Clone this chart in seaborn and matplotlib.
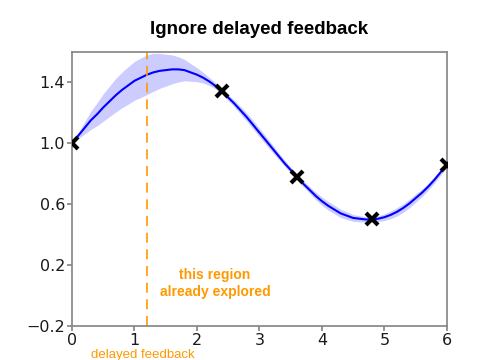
import numpy as np
import pandas as pd
import seaborn as sns
import matplotlib
matplotlib.use('Agg')
import matplotlib.pyplot as plt

# posterior mean and band half-width, x step 0.1
grid_x = [round(0.1 * i, 1) for i in range(61)]
mean_y = [1.00, 1.05, 1.10, 1.15, 1.19, 1.235, 1.275, 1.315, 1.35, 1.38,
          1.41, 1.43, 1.45, 1.465, 1.475, 1.48, 1.485, 1.485, 1.48, 1.465,
          1.45, 1.43, 1.405, 1.375, 1.34, 1.30, 1.26, 1.215, 1.17, 1.12,
          1.07, 1.02, 0.97, 0.92, 0.87, 0.825, 0.78, 0.735, 0.695, 0.655,
          0.62, 0.59, 0.565, 0.54, 0.525, 0.51, 0.505, 0.50, 0.50, 0.505,
          0.515, 0.53, 0.55, 0.575, 0.605, 0.64, 0.675, 0.715, 0.76, 0.81,
          0.86]
half_band = [0.0, 0.02, 0.04, 0.06, 0.075, 0.09, 0.10, 0.11, 0.117, 0.123,
             0.127, 0.13, 0.13, 0.125, 0.115, 0.105, 0.095, 0.083, 0.07, 0.058,
             0.046, 0.035, 0.026, 0.02, 0.018, 0.019, 0.022, 0.025, 0.027, 0.028,
             0.028, 0.027, 0.025, 0.022, 0.02, 0.018, 0.018, 0.019, 0.022, 0.025,
             0.027, 0.028, 0.028, 0.027, 0.025, 0.022, 0.02, 0.018, 0.018, 0.019,
             0.022, 0.025, 0.027, 0.028, 0.028, 0.027, 0.025, 0.023, 0.021, 0.019,
             0.018]

obs_x = [0.0, 2.4, 3.6, 4.8, 6.0]
obs_y = [1.00, 1.34, 0.78, 0.50, 0.86]

delayed_x = 1.2
yticks = [-0.2, 0.2, 0.6, 1.0, 1.4]

sns.set_theme(style='ticks')
plt.rcParams['font.family'] = ['DejaVu Sans']

df = pd.DataFrame({'x': grid_x, 'mean': mean_y, 'sd': half_band})
obs = pd.DataFrame({'x': obs_x, 'y': obs_y})

fig = plt.figure(figsize=(4.8, 3.6), dpi=100)
ax = fig.add_axes([0.15, 0.094, 0.781, 0.762])

ax.fill_between(df['x'], df['mean'] - df['sd'], df['mean'] + df['sd'],
                color='#0000ff', alpha=0.2, lw=0)
sns.lineplot(data=df, x='x', y='mean', color='#0000ff', lw=1.5, ax=ax)
ax.plot(obs['x'], obs['y'], 'x', color='black', ms=9, mew=3, zorder=5)
ax.axvline(delayed_x, color='#ff9900', ls=(0, (6, 4)), lw=1.2)

ax.set_xlim(0, 6)
ax.set_ylim(-0.2, 1.6)
ax.set_yticks(yticks)
ax.set_xticks(range(7))
ax.tick_params(labelsize=11.5, length=3.5, pad=1.5,
               colors='#888888', labelcolor='#1a1a1a')
for s in ax.spines.values():
    s.set_color('#888888')
ax.set_xlabel('')
ax.set_ylabel('')

ax.set_title('Ignore delayed feedback', fontsize=13.5, fontweight='bold',
             family='Liberation Sans', color='black', pad=13)
ax.text(2.29, 0.08, 'this region\nalready explored', color='#ff9900',
        fontsize=10, fontweight='bold', family='Liberation Sans',
        ha='center', va='center', linespacing=1.3)
ax.text(1.14, -0.39, 'delayed feedback', color='#ff9900', fontsize=9.5,
        family='Liberation Sans', ha='center', va='center')

fig.savefig('out.png', dpi=100)
